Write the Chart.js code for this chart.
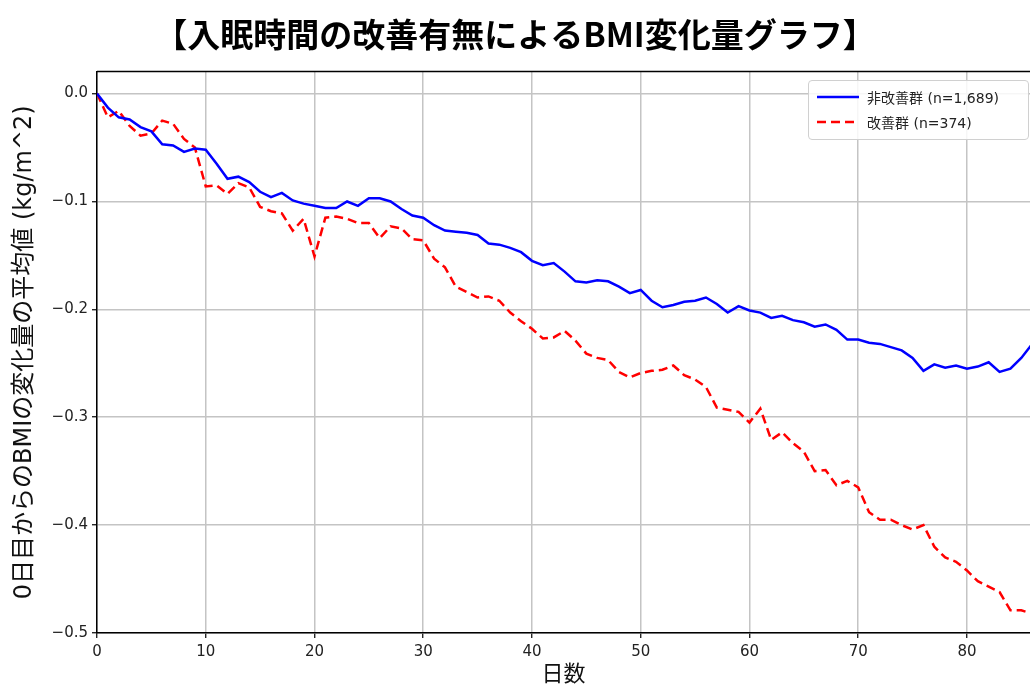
<!DOCTYPE html>
<html>
<head>
<meta charset="utf-8">
<script src="https://cdn.jsdelivr.net/npm/chart.js@4"></script>
<style>
  html, body { margin: 0; padding: 0; background: #fff; }
  #wrap { position: relative; width: 1030px; height: 688px; }
  #legend {
    position: absolute; left: 808px; top: 80px; width: 219px; height: 58px;
    border: 1px solid #d0d0d0; border-radius: 4px; background: rgba(255,255,255,0.85);
    font-family: "DejaVu Sans", "Noto Sans CJK JP", sans-serif; font-size: 14px; color: #222;
  }
  #legend .row { position: absolute; left: 8px; height: 20px; display: flex; align-items: center; }
  #legend svg { margin-right: 8px; }
</style>
</head>
<body>
<div id="wrap">
  <canvas id="bmiChart" width="1030" height="688"></canvas>
  <div id="legend">
    <div class="row" style="top:6px">
      <svg width="42" height="6"><line x1="0" y1="3" x2="42" y2="3" stroke="#0000ff" stroke-width="2.5"/></svg>
      <span>非改善群 (n=1,689)</span>
    </div>
    <div class="row" style="top:31px">
      <svg width="42" height="6"><line x1="0" y1="3" x2="42" y2="3" stroke="#ff0000" stroke-width="2.5" stroke-dasharray="9,5"/></svg>
      <span>改善群 (n=374)</span>
    </div>
  </div>
</div>
<script>
// days since start
const days = [0,1,2,3,4,5,6,7,8,9,10,11,12,13,14,15,16,17,18,19,20,21,22,23,24,25,26,27,28,29,
  30,31,32,33,34,35,36,37,38,39,40,41,42,43,44,45,46,47,48,49,50,51,52,53,54,55,56,57,58,59,
  60,61,62,63,64,65,66,67,68,69,70,71,72,73,74,75,76,77,78,79,80,81,82,83,84,85,86];

// 非改善群
const nonImproved = [0,-0.013,-0.022,-0.024,-0.031,-0.035,-0.047,-0.048,-0.054,-0.051,
  -0.052,-0.065,-0.079,-0.077,-0.082,-0.091,-0.096,-0.092,-0.099,-0.102,
  -0.104,-0.106,-0.106,-0.100,-0.104,-0.097,-0.097,-0.100,-0.107,-0.113,
  -0.115,-0.122,-0.127,-0.128,-0.129,-0.131,-0.139,-0.140,-0.143,-0.147,
  -0.155,-0.159,-0.157,-0.165,-0.174,-0.175,-0.173,-0.174,-0.179,-0.185,
  -0.182,-0.192,-0.198,-0.196,-0.193,-0.192,-0.189,-0.195,-0.203,-0.197,
  -0.201,-0.203,-0.208,-0.206,-0.210,-0.212,-0.216,-0.214,-0.219,-0.228,
  -0.228,-0.231,-0.232,-0.235,-0.238,-0.245,-0.257,-0.251,-0.254,-0.252,
  -0.255,-0.253,-0.249,-0.258,-0.255,-0.245,-0.232];

// 改善群
const improved = [0,-0.022,-0.016,-0.030,-0.039,-0.037,-0.025,-0.028,-0.042,-0.050,
  -0.086,-0.085,-0.093,-0.083,-0.087,-0.105,-0.109,-0.111,-0.127,-0.116,
  -0.151,-0.115,-0.114,-0.116,-0.120,-0.120,-0.134,-0.123,-0.125,-0.135,
  -0.136,-0.153,-0.161,-0.179,-0.184,-0.189,-0.188,-0.192,-0.203,-0.211,
  -0.218,-0.227,-0.226,-0.220,-0.229,-0.241,-0.245,-0.247,-0.258,-0.263,
  -0.259,-0.257,-0.256,-0.252,-0.261,-0.265,-0.272,-0.291,-0.293,-0.295,
  -0.305,-0.292,-0.321,-0.314,-0.324,-0.332,-0.350,-0.349,-0.363,-0.359,
  -0.365,-0.388,-0.395,-0.395,-0.400,-0.404,-0.400,-0.420,-0.430,-0.434,
  -0.442,-0.452,-0.457,-0.462,-0.479,-0.479,-0.482];

const xTicks = [0,10,20,30,40,50,60,70,80];
const yTicks = [0.0,-0.1,-0.2,-0.3,-0.4,-0.5];

const FONT = '"DejaVu Sans", "Noto Sans CJK JP", sans-serif';

// top border line of plot (matplotlib spine)
const frame = {
  id: 'frame',
  afterDraw(chart) {
    const { ctx, chartArea } = chart;
    ctx.save();
    ctx.strokeStyle = '#000';
    ctx.lineWidth = 1.5;
    ctx.beginPath();
    ctx.moveTo(chartArea.left, chartArea.top);
    ctx.lineTo(chartArea.right, chartArea.top);
    ctx.stroke();
    ctx.restore();
  }
};

new Chart(document.getElementById('bmiChart'), {
  type: 'line',
  data: {
    datasets: [{
      label: '非改善群 (n=1,689)',
      data: days.map((d, i) => ({ x: d, y: nonImproved[i] })),
      borderColor: '#0000ff',
      borderWidth: 2.5,
      pointRadius: 0,
      tension: 0
    }, {
      label: '改善群 (n=374)',
      data: days.map((d, i) => ({ x: d, y: improved[i] })),
      borderColor: '#ff0000',
      borderWidth: 2.5,
      borderDash: [9, 5],
      pointRadius: 0,
      tension: 0
    }]
  },
  options: {
    responsive: false,
    animation: false,
    layout: { padding: { left: 0, right: 0, top: 0, bottom: 0 } },
    plugins: {
      legend: { display: false },
      tooltip: { enabled: false },
      title: {
        display: true,
        text: '【入眠時間の改善有無によるBMI変化量グラフ】',
        color: '#000',
        font: { family: '"Noto Sans CJK JP", sans-serif', size: 33, weight: 'bold' },
        padding: { top: 15, bottom: 17 }
      }
    },
    scales: {
      x: {
        type: 'linear',
        min: 0,
        max: 85.8,
        afterBuildTicks: s => { s.ticks = xTicks.map(v => ({ value: v })); },
        afterFit: s => { s.height = 55; },
        ticks: { color: '#222', font: { family: FONT, size: 15 }, padding: 5, maxRotation: 0 },
        grid: { color: '#c4c4c4', lineWidth: 1.5, tickLength: 5, tickColor: '#000', tickWidth: 1.2 },
        border: { color: '#000', width: 1.5 },
        title: { display: true, text: '日数', color: '#111', font: { family: FONT, size: 22 }, padding: { top: 0, bottom: 0 } }
      },
      y: {
        type: 'linear',
        min: -0.5,
        max: 0.0204,
        afterBuildTicks: s => { s.ticks = yTicks.map(v => ({ value: v })); },
        afterFit: s => { s.width = 97; },
        ticks: {
          color: '#222', font: { family: FONT, size: 15 }, padding: 4,
          callback: v => v.toFixed(1).replace('-', '\u2212').replace('\u22120.0', '0.0')
        },
        grid: { color: '#c4c4c4', lineWidth: 1.5, tickLength: 5, tickColor: '#000', tickWidth: 1.2 },
        border: { color: '#000', width: 1.5 },
        title: { display: true, text: '0日目からのBMIの変化量の平均値 (kg/m^2)', color: '#111', font: { family: FONT, size: 24 }, padding: { top: 10, bottom: 0 } }
      }
    }
  },
  plugins: [frame]
});
</script>
</body>
</html>
